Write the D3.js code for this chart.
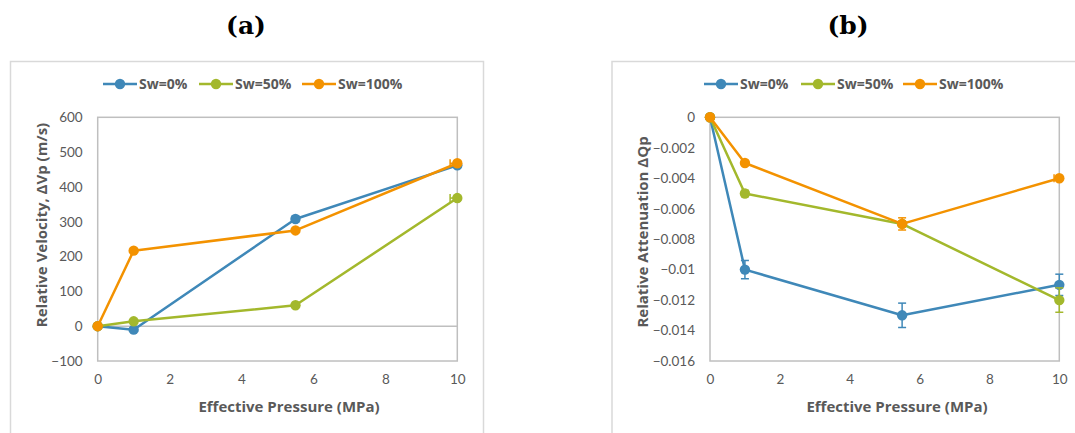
<!DOCTYPE html>
<html>
<head>
<meta charset="utf-8">
<script src="https://cdn.jsdelivr.net/npm/d3@7"></script>
<style>
  html, body { margin: 0; padding: 0; background: #fff; }
  svg { display: block; }
  text { font-family: Lato, "Open Sans", sans-serif; }
  .label { font-family: "Open Sans", Lato, sans-serif; font-weight: bold; }
</style>
</head>
<body>
<svg id="chart" width="1075" height="433"></svg>
<script>
// Effective pressure steps (MPa)
const pressure = [0, 1, 5.5, 10];
const seriesNames = ["Sw=0%", "Sw=50%", "Sw=100%"];
const seriesColors = ["#3f88b8", "#a3b82c", "#f39200"];

// Panel (a): relative velocity change ΔVp (m/s)
const velocitySw0 = [0, -10, 308, 462];
const velocitySw50 = [0, 14, 60, 368];
const velocitySw100 = [0, 217, 275, 468];
const velocityErrX = [[0, 0, 0, 0], [0, 0, 0, 0.2], [0, 0, 0, 0.2]];
const velocityErrY = [[0, 0, 8, 6], [0, 0, 0, 6], [0, 0, 0, 6]];
const velocityTicks = [-100, 0, 100, 200, 300, 400, 500, 600];

// Panel (b): relative attenuation ΔQp
const attenSw0 = [0, -0.010, -0.013, -0.011];
const attenSw50 = [0, -0.005, -0.007, -0.012];
const attenSw100 = [0, -0.003, -0.007, -0.004];
const attenErrX = [[0, 0, 0, 0], [0, 0, 0, 0], [0, 0, 0, 0.15]];
const attenErrY = [[0, 0.0006, 0.0008, 0.0007], [0, 0.0002, 0.0001, 0.0008], [0, 0.0001, 0.0004, 0.0001]];
const attenTicks = [0, -0.002, -0.004, -0.006, -0.008, -0.01, -0.012, -0.014, -0.016];

const pressureTicks = [0, 2, 4, 6, 8, 10];

const svg = d3.select("#chart");
const gray = "#595959";
const frame = "#d9d9d9";
const axisGray = "#bfbfbf";

function panel(cfg) {
  const g = svg.append("g");

  // chart area frame
  g.append("rect")
    .attr("x", cfg.box[0] + 0.5).attr("y", cfg.box[1] + 0.5)
    .attr("width", cfg.box[2]).attr("height", cfg.box[3])
    .attr("fill", "none").attr("stroke", frame).attr("stroke-width", 1.5);

  // title
  g.append("text")
    .attr("x", cfg.titleX).attr("y", 34)
    .attr("text-anchor", "middle")
    .style("font-family", "'DejaVu Serif', 'Liberation Serif', serif")
    .style("font-weight", "bold").style("font-size", "25px")
    .attr("fill", "#000")
    .text(cfg.title);

  const x = d3.scaleLinear().domain([0, 10]).range([cfg.plot.left, cfg.plot.right]);
  const y = d3.scaleLinear().domain(cfg.yDomain).range([cfg.plot.bottom, cfg.plot.top]);

  // plot area border
  g.append("rect")
    .attr("x", x(0)).attr("y", y(cfg.yDomain[1]))
    .attr("width", x(10) - x(0)).attr("height", y(cfg.yDomain[0]) - y(cfg.yDomain[1]))
    .attr("fill", "none").attr("stroke", axisGray).attr("stroke-width", 1.5);

  // zero line
  if (cfg.yDomain[0] < 0 && cfg.yDomain[1] > 0) {
    g.append("line")
      .attr("x1", x(0)).attr("x2", x(10))
      .attr("y1", y(0)).attr("y2", y(0))
      .attr("stroke", axisGray).attr("stroke-width", 1.5);
  }

  // axes (labels only, Excel-style)
  const yAxis = g.append("g")
    .attr("transform", `translate(${x(0) - 8},0)`)
    .call(d3.axisLeft(y).tickValues(cfg.yTicks).tickSize(0).tickPadding(7)
      .tickFormat(d => d3.format("")(+d.toFixed(3))));
  yAxis.select(".domain").remove();
  yAxis.selectAll("text").attr("fill", gray).style("font-size", "13.5px");

  const xAxis = g.append("g")
    .attr("transform", `translate(0,${y(cfg.yDomain[0]) + 10})`)
    .call(d3.axisBottom(x).tickValues(pressureTicks).tickSize(0).tickPadding(3));
  xAxis.select(".domain").remove();
  xAxis.selectAll("text").attr("fill", gray).style("font-size", "13.5px");

  // axis titles
  g.append("text")
    .attr("class", "label")
    .attr("x", cfg.xTitleX).attr("y", 412)
    .attr("text-anchor", "middle")
    .attr("fill", gray).style("font-size", "15px")
    .text("Effective Pressure (MPa)");

  g.append("text")
    .attr("class", "label")
    .attr("transform", `translate(${cfg.yTitleX},${cfg.yTitleY}) rotate(-90)`)
    .attr("text-anchor", "middle")
    .attr("fill", gray).style("font-size", "15px")
    .text(cfg.yTitle);

  const line = d3.line().x((d, i) => x(pressure[i])).y(d => y(d));

  cfg.series.forEach((vals, si) => {
    const color = seriesColors[si];
    const sg = g.append("g");

    sg.append("path")
      .datum(vals)
      .attr("d", line)
      .attr("fill", "none").attr("stroke", color).attr("stroke-width", 2.5)
      .attr("stroke-linejoin", "round");

    // error bars
    vals.forEach((v, i) => {
      const ey = cfg.errY[si][i], ex = cfg.errX[si][i];
      const cx = x(pressure[i]), cy = y(v);
      if (ey > 0) {
        const y1 = y(v + ey), y2 = y(v - ey);
        sg.append("line").attr("x1", cx).attr("x2", cx).attr("y1", y1).attr("y2", y2)
          .attr("stroke", color).attr("stroke-width", 1.5);
        [y1, y2].forEach(yy => sg.append("line")
          .attr("x1", cx - 4).attr("x2", cx + 4).attr("y1", yy).attr("y2", yy)
          .attr("stroke", color).attr("stroke-width", 1.5));
      }
      if (ex > 0) {
        const x1 = x(pressure[i] - ex), x2 = x(Math.min(10, pressure[i] + ex));
        sg.append("line").attr("x1", x1).attr("x2", x2).attr("y1", cy).attr("y2", cy)
          .attr("stroke", color).attr("stroke-width", 1.5);
        sg.append("line").attr("x1", x1).attr("x2", x1).attr("y1", cy - 4).attr("y2", cy + 4)
          .attr("stroke", color).attr("stroke-width", 1.5);
      }
    });

    sg.selectAll("circle")
      .data(vals)
      .join("circle")
      .attr("cx", (d, i) => x(pressure[i]))
      .attr("cy", d => y(d))
      .attr("r", 5.2)
      .attr("fill", color);
  });

  // legend
  const lg = g.append("g");
  cfg.legendX.forEach((lx, si) => {
    const color = seriesColors[si];
    lg.append("line")
      .attr("x1", lx).attr("x2", lx + 34).attr("y1", 84).attr("y2", 84)
      .attr("stroke", color).attr("stroke-width", 2.5);
    lg.append("circle").attr("cx", lx + 17).attr("cy", 84).attr("r", 5.2).attr("fill", color);
    lg.append("text")
      .attr("class", "label")
      .attr("x", lx + 36).attr("y", 89)
      .attr("fill", gray).style("font-size", "14px")
      .text(seriesNames[si]);
  });
}

panel({
  title: "(a)", titleX: 246,
  box: [10, 61, 473, 400],
  plot: { left: 97.7, right: 457.3, top: 117.3, bottom: 361 },
  yDomain: [-100, 600], yTicks: velocityTicks,
  series: [velocitySw0, velocitySw50, velocitySw100],
  errX: velocityErrX, errY: velocityErrY,
  xTitleX: 289, yTitleX: 47, yTitleY: 225,
  yTitle: "Relative Velocity, ΔVp (m/s)",
  legendX: [103, 199, 302]
});

panel({
  title: "(b)", titleX: 848,
  box: [611.5, 61, 480, 400],
  plot: { left: 710, right: 1059.3, top: 117.3, bottom: 361 },
  yDomain: [-0.016, 0], yTicks: attenTicks,
  series: [attenSw0, attenSw50, attenSw100],
  errX: attenErrX, errY: attenErrY,
  xTitleX: 897, yTitleX: 648, yTitleY: 232,
  yTitle: "Relative Attenuation ΔQp",
  legendX: [704, 801, 903]
});
</script>
</body>
</html>
